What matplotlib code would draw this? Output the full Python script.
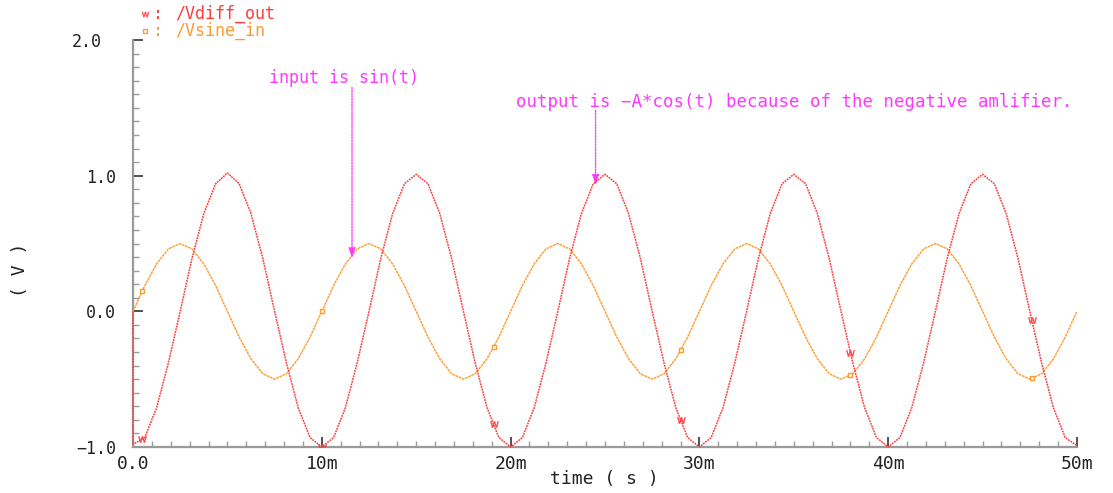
import numpy as np
import matplotlib
matplotlib.use("Agg")
import matplotlib.pyplot as plt
from matplotlib.lines import Line2D
from matplotlib.transforms import ScaledTranslation

# transient samples, time in ms (step 0.625 ms)
t_ms = np.arange(0, 50.0001, 0.625)

v_sine_in = [
    0.00, 0.19, 0.35, 0.46, 0.50, 0.46, 0.35, 0.19, 0.00, -0.19, -0.35, -0.46, -0.50, -0.46, -0.35, -0.19,
    0.00, 0.19, 0.35, 0.46, 0.50, 0.46, 0.35, 0.19, 0.00, -0.19, -0.35, -0.46, -0.50, -0.46, -0.35, -0.19,
    0.00, 0.19, 0.35, 0.46, 0.50, 0.46, 0.35, 0.19, 0.00, -0.19, -0.35, -0.46, -0.50, -0.46, -0.35, -0.19,
    0.00, 0.19, 0.35, 0.46, 0.50, 0.46, 0.35, 0.19, 0.00, -0.19, -0.35, -0.46, -0.50, -0.46, -0.35, -0.19,
    0.00, 0.19, 0.35, 0.46, 0.50, 0.46, 0.35, 0.19, 0.00, -0.19, -0.35, -0.46, -0.50, -0.46, -0.35, -0.19,
    0.00,
]

# output starts at 0 V and jumps to -1 V on the first step
v_diff_start = 0.0
v_diff_out = [
    -0.98, -0.93, -0.71, -0.38, 0.00, 0.39, 0.72, 0.94, 1.02, 0.94, 0.72, 0.39, 0.00, -0.38, -0.71, -0.93,
    -1.00, -0.93, -0.71, -0.38, 0.00, 0.39, 0.72, 0.94, 1.01, 0.94, 0.72, 0.39, 0.00, -0.38, -0.71, -0.93,
    -1.00, -0.93, -0.71, -0.38, 0.00, 0.39, 0.72, 0.94, 1.01, 0.94, 0.72, 0.39, 0.00, -0.38, -0.71, -0.93,
    -1.00, -0.93, -0.71, -0.38, 0.00, 0.39, 0.72, 0.94, 1.01, 0.94, 0.72, 0.39, 0.00, -0.38, -0.71, -0.93,
    -1.00, -0.93, -0.71, -0.38, 0.00, 0.39, 0.72, 0.94, 1.01, 0.94, 0.72, 0.39, 0.00, -0.38, -0.71, -0.93,
    -0.99,
]

# times (ms) where the trace symbols sit
marker_t = [0.5, 10.0, 19.1, 29.0, 38.0, 47.6]

x_ticks = [0, 10, 20, 30, 40, 50]
x_ticklabels = ["0.0", "10m", "20m", "30m", "40m", "50m"]
y_ticks = [-1, 0, 1, 2]
y_ticklabels = ["\u22121.0", "0.0", "1.0", "2.0"]

RED = "#ff3b3b"
ORANGE = "#ff9a2e"
MAGENTA = "#ff38ff"
AXIS = "#9a9a9a"
INK = "#222222"

plt.rcParams["font.family"] = ["DejaVu Sans Mono", "DejaVu Sans"]

fig = plt.figure(figsize=(11.13, 4.93), dpi=100)
ax = fig.add_axes([133 / 1113, 46 / 493, 944 / 1113, 407 / 493])

red_t = np.concatenate([[0.0], t_ms])
red_v = np.concatenate([[v_diff_start], v_diff_out])
ax.plot(red_t, red_v, color=RED, lw=1.1, ls=(0, (1.2, 0.6)), clip_on=False, zorder=4)
ax.plot(t_ms, v_sine_in, color=ORANGE, lw=1.0, ls=(0, (2, 0.5)), clip_on=False, zorder=3)

# trace symbols
ax.plot(marker_t, np.interp(marker_t, red_t, red_v), ls="none",
        marker=r"$\mathsf{w}$", ms=6, color=RED, mew=0.2, zorder=5)
ax.plot(marker_t, np.interp(marker_t, t_ms, v_sine_in), ls="none",
        marker="s", ms=3.5, mfc="white", mec=ORANGE, mew=1.0, zorder=5)

ax.set_xlim(0, 50)
ax.set_ylim(-1, 2)
for s in ["top", "right"]:
    ax.spines[s].set_visible(False)
for s in ["left", "bottom"]:
    ax.spines[s].set_color(AXIS)
    ax.spines[s].set_linewidth(1.6)

ax.set_xticks(x_ticks)
ax.set_xticklabels(x_ticklabels)
ax.set_yticks(y_ticks)
ax.set_yticklabels(y_ticklabels)
ax.set_xticks(np.arange(0, 50.01, 1), minor=True)
ax.set_yticks(np.arange(-1, 2.001, 0.1), minor=True)
ax.tick_params(which="major", direction="in", length=7, width=1.2, color="#333333")
ax.tick_params(which="minor", direction="in", length=4, width=1.0, color=AXIS)
ax.tick_params(axis="x", which="major", pad=6, labelsize=13, labelcolor=INK)
ax.tick_params(axis="y", which="major", pad=12, labelsize=12, labelcolor=INK)

# the top label sits further out than the others
top_lbl = ax.get_yticklabels()[-1]
top_lbl.set_transform(top_lbl.get_transform() + ScaledTranslation(-0.15, 0, fig.dpi_scale_trans))

fig.text(604 / 1113, 1 - 479 / 493, "time ( s )", ha="center", va="center",
         fontsize=13, color=INK)
fig.text(20 / 1113, 1 - 270 / 493, "( V )", ha="center", va="center",
         rotation=90, fontsize=13, color=INK)

# legend in the top left corner
fig.add_artist(Line2D([145 / 1113], [1 - 14 / 493], transform=fig.transFigure,
                      marker=r"$\mathsf{w}$", ms=5, color=RED, ls="none", mew=0.2))
fig.add_artist(Line2D([145 / 1113], [1 - 31 / 493], transform=fig.transFigure,
                      marker="s", ms=3.5, mfc="white", mec=ORANGE, mew=1.0, ls="none"))
fig.text(153 / 1113, 1 - 14 / 493, ":", ha="left", va="center", fontsize=12, color=RED)
fig.text(153 / 1113, 1 - 31 / 493, ":", ha="left", va="center", fontsize=12, color=ORANGE)
fig.text(175 / 1113, 1 - 14 / 493, "/Vdiff_out", ha="left", va="center",
         fontsize=12, color=RED)
fig.text(175 / 1113, 1 - 31 / 493, "/Vsine_in", ha="left", va="center",
         fontsize=12, color=ORANGE)

arrow = dict(arrowstyle="-|>,head_length=0.6,head_width=0.2", color=MAGENTA,
             lw=1.0, ls=(0, (1, 1)), shrinkA=0, shrinkB=0)
ax.text(11.2, 1.72, "input is sin(t)", ha="center", va="center",
        fontsize=12, color=MAGENTA)
ax.annotate("", xy=(11.6, 0.39), xytext=(11.6, 1.65), arrowprops=arrow)
ax.text(20.3, 1.54, "output is \u2212A*cos(t) because of the negative amlifier.",
        ha="left", va="center", fontsize=12.5, color=MAGENTA)
ax.annotate("", xy=(24.5, 0.93), xytext=(24.5, 1.48), arrowprops=arrow)

fig.savefig("out.png", dpi=100, facecolor="white")
